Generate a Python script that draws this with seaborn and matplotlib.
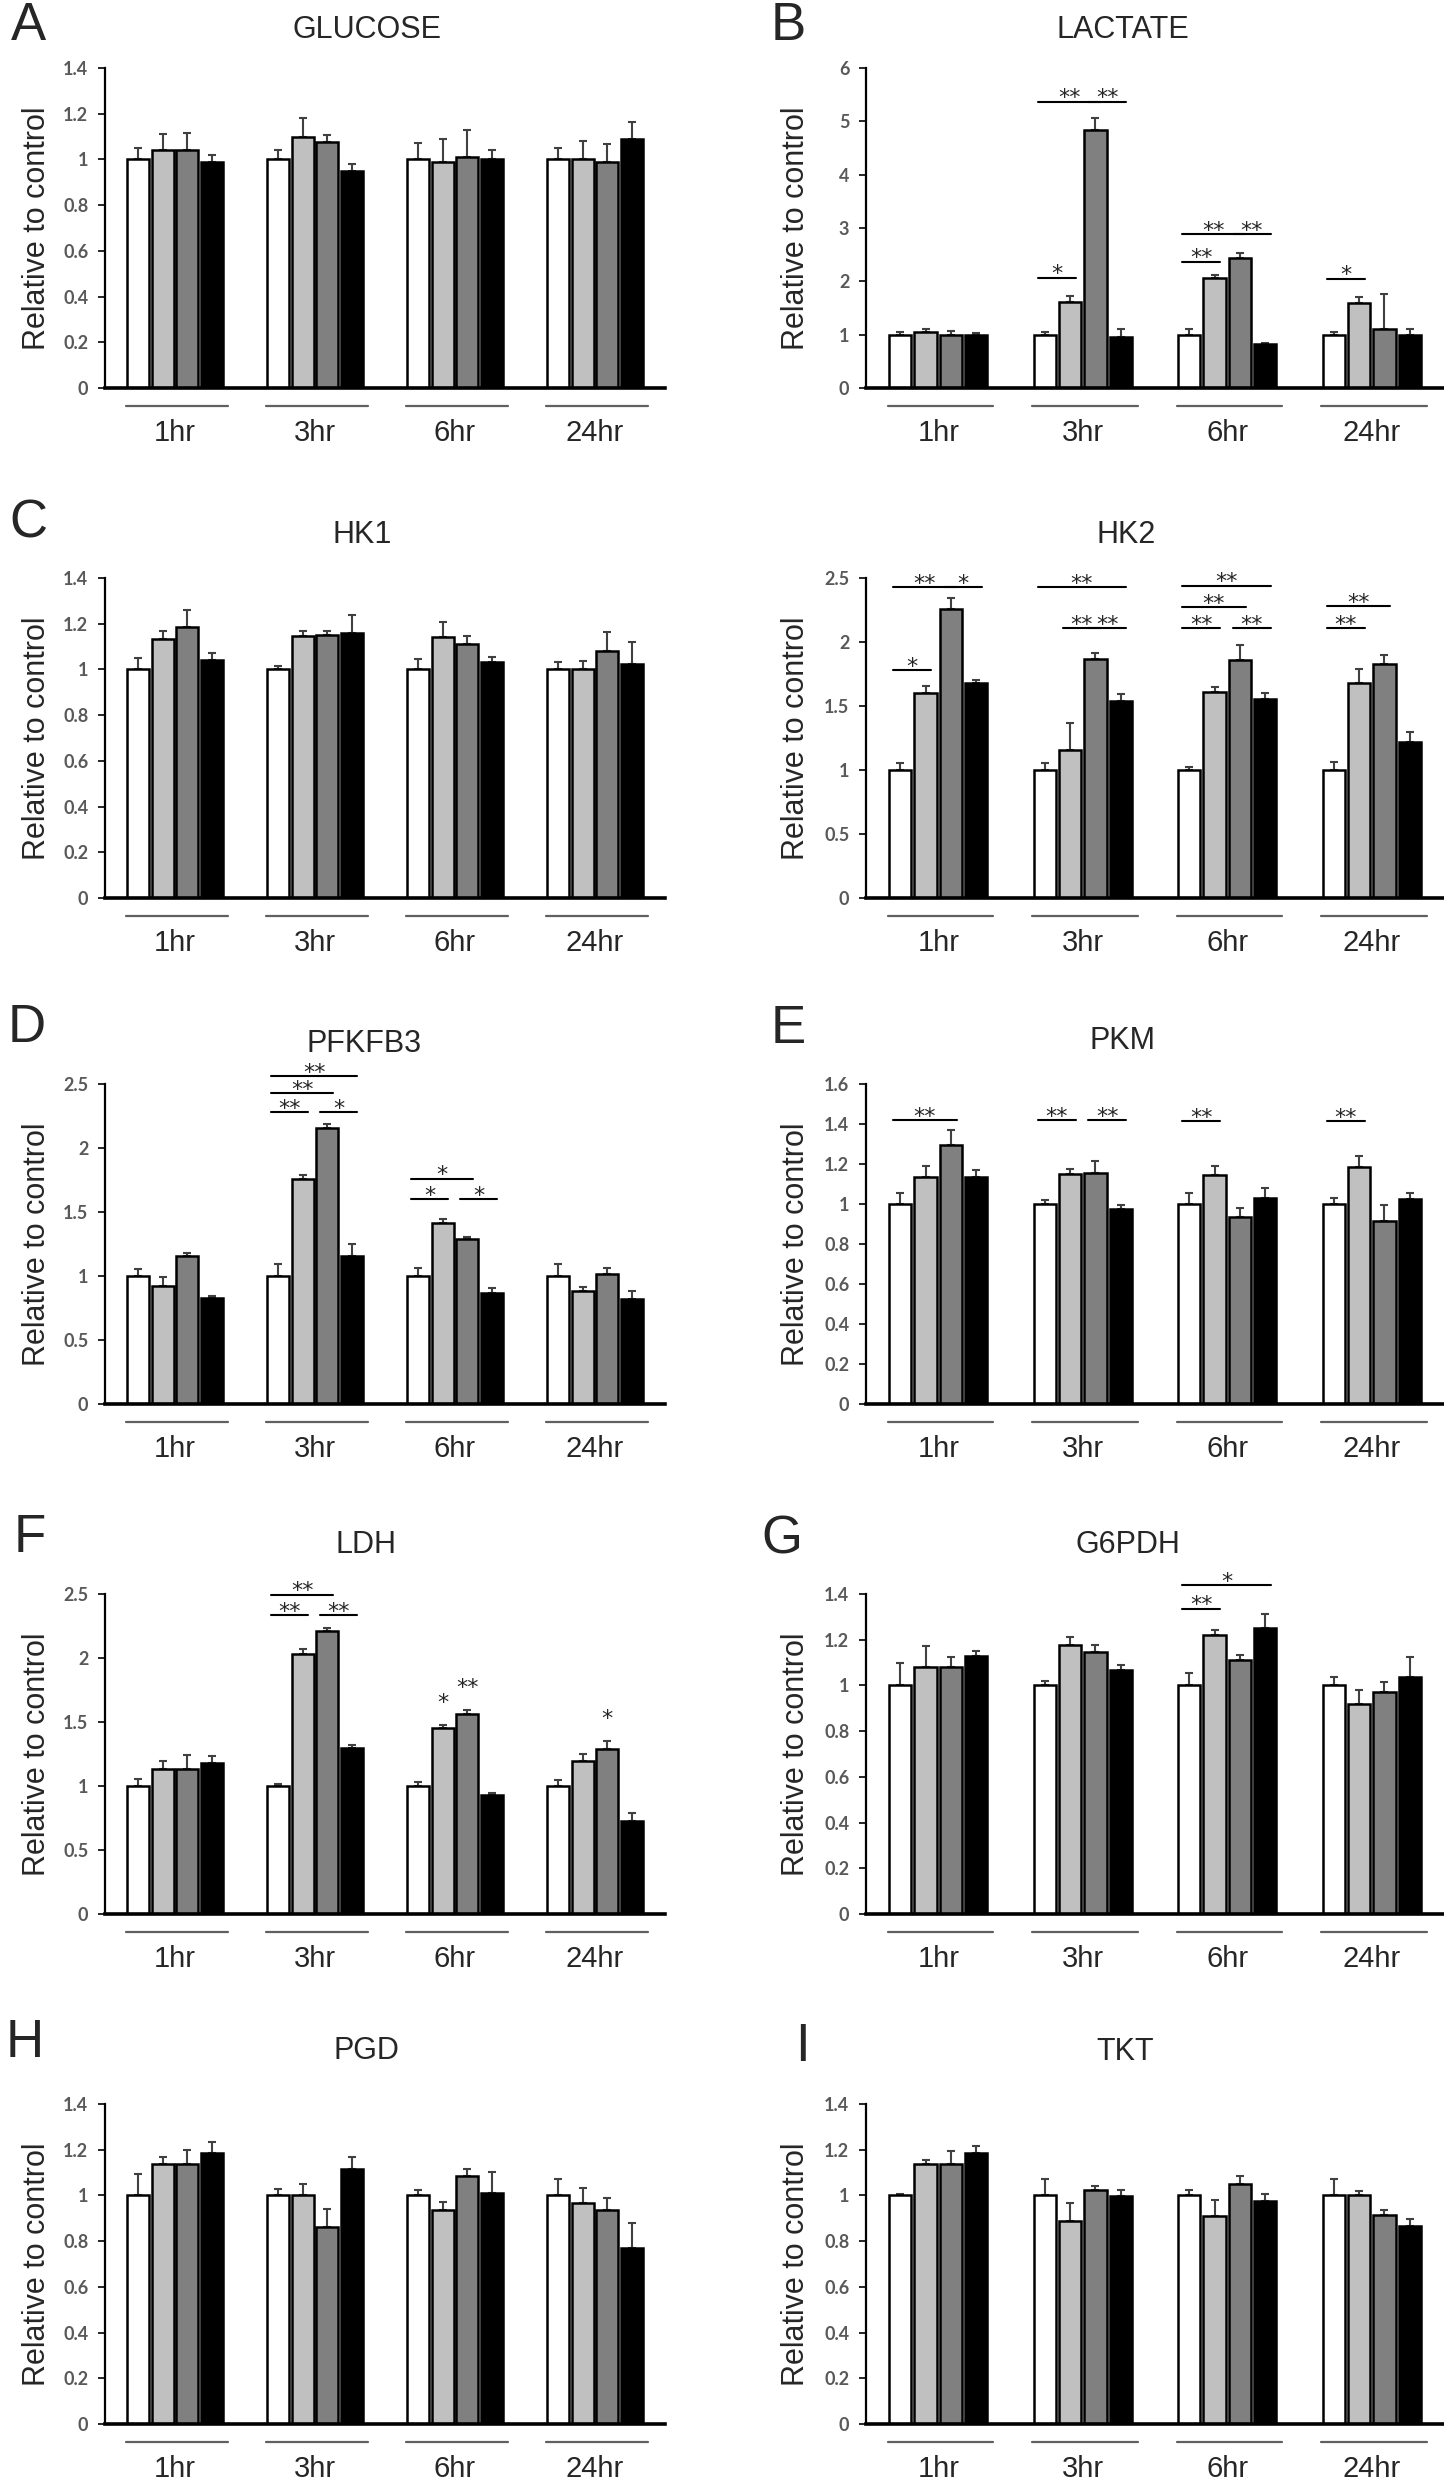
import numpy as np
import pandas as pd
import seaborn as sns
import matplotlib
matplotlib.use('Agg')
import matplotlib.pyplot as plt

# categorias y grupos
times = ['1hr', '3hr', '6hr', '24hr']
groups = ['control', 'treat1', 'treat2', 'treat3']
bar_colors = ['#ffffff', '#c0c0c0', '#808080', '#000000']

# medias (filas = tiempo, columnas = grupo) y error estandar
glucose_mean = [[1.00, 1.04, 1.04, 0.99], [1.00, 1.10, 1.075, 0.95], [1.00, 0.99, 1.01, 1.00], [1.00, 1.00, 0.99, 1.09]]
glucose_err = [[0.05, 0.07, 0.075, 0.03], [0.04, 0.08, 0.03, 0.028], [0.07, 0.10, 0.12, 0.04], [0.05, 0.08, 0.076, 0.073]]

lactate_mean = [[1.00, 1.05, 1.00, 1.00], [1.00, 1.62, 4.83, 0.96], [1.00, 2.07, 2.44, 0.82], [1.00, 1.60, 1.10, 1.00]]
lactate_err = [[0.05, 0.05, 0.06, 0.03], [0.05, 0.10, 0.24, 0.15], [0.10, 0.05, 0.10, 0.025], [0.05, 0.10, 0.67, 0.10]]

hk1_mean = [[1.00, 1.135, 1.186, 1.043], [1.00, 1.146, 1.152, 1.16], [1.00, 1.14, 1.11, 1.034], [1.00, 1.00, 1.082, 1.022]]
hk1_err = [[0.05, 0.035, 0.075, 0.03], [0.015, 0.024, 0.018, 0.077], [0.045, 0.067, 0.036, 0.02], [0.033, 0.038, 0.082, 0.098]]

hk2_mean = [[1.00, 1.60, 2.26, 1.68], [1.00, 1.154, 1.87, 1.54], [1.00, 1.61, 1.86, 1.555], [1.00, 1.68, 1.83, 1.22]]
hk2_err = [[0.055, 0.06, 0.083, 0.026], [0.055, 0.21, 0.042, 0.05], [0.026, 0.04, 0.12, 0.047], [0.065, 0.106, 0.065, 0.08]]

pfkfb3_mean = [[1.00, 0.924, 1.153, 0.829], [1.00, 1.758, 2.158, 1.16], [1.00, 1.416, 1.29, 0.866], [1.00, 0.884, 1.018, 0.818]]
pfkfb3_err = [[0.055, 0.066, 0.026, 0.013], [0.09, 0.034, 0.026, 0.09], [0.06, 0.03, 0.016, 0.04], [0.09, 0.03, 0.042, 0.063]]

pkm_mean = [[1.00, 1.137, 1.294, 1.137], [1.00, 1.149, 1.157, 0.975], [1.00, 1.144, 0.937, 1.032], [1.00, 1.187, 0.915, 1.025]]
pkm_err = [[0.054, 0.053, 0.077, 0.033], [0.02, 0.027, 0.057, 0.019], [0.057, 0.045, 0.045, 0.05], [0.03, 0.052, 0.08, 0.032]]

ldh_mean = [[1.00, 1.134, 1.134, 1.183], [1.00, 2.033, 2.208, 1.293], [1.00, 1.457, 1.564, 0.931], [1.00, 1.194, 1.288, 0.727]]
ldh_err = [[0.056, 0.058, 0.11, 0.05], [0.014, 0.037, 0.026, 0.027], [0.035, 0.018, 0.029, 0.015], [0.045, 0.057, 0.06, 0.06]]

g6pdh_mean = [[1.00, 1.079, 1.079, 1.13], [1.00, 1.178, 1.145, 1.069], [1.00, 1.222, 1.112, 1.25], [1.00, 0.92, 0.971, 1.036]]
g6pdh_err = [[0.10, 0.095, 0.045, 0.019], [0.019, 0.032, 0.033, 0.022], [0.053, 0.02, 0.022, 0.064], [0.035, 0.061, 0.044, 0.087]]

pgd_mean = [[1.00, 1.137, 1.137, 1.187], [1.00, 1.00, 0.862, 1.116], [1.00, 0.938, 1.087, 1.011], [1.00, 0.967, 0.938, 0.77]]
pgd_err = [[0.093, 0.029, 0.061, 0.048], [0.029, 0.051, 0.078, 0.05], [0.023, 0.034, 0.029, 0.092], [0.071, 0.066, 0.05, 0.11]]

tkt_mean = [[1.00, 1.137, 1.137, 1.187], [1.00, 0.887, 1.023, 0.998], [1.00, 0.909, 1.051, 0.976], [1.00, 1.00, 0.915, 0.865]]
tkt_err = [[0.008, 0.017, 0.057, 0.029], [0.074, 0.082, 0.017, 0.026], [0.023, 0.07, 0.033, 0.031], [0.074, 0.019, 0.02, 0.032]]

# significancia: (tiempo, grupo_i, grupo_j, altura, texto); i == j -> solo texto
lactate_sig = [(1, 0, 1, 2.07, '*'), (1, 0, 2, 5.37, '**'), (1, 2, 3, 5.37, '**'),
               (2, 0, 1, 2.37, '**'), (2, 0, 2, 2.88, '**'), (2, 2, 3, 2.88, '**'),
               (3, 0, 1, 2.05, '*')]
hk2_sig = [(0, 0, 1, 1.78, '*'), (0, 0, 2, 2.43, '**'), (0, 2, 3, 2.43, '*'),
           (1, 0, 3, 2.43, '**'), (1, 1, 2, 2.11, '**'), (1, 2, 3, 2.11, '**'),
           (2, 0, 3, 2.44, '**'), (2, 0, 2, 2.27, '**'), (2, 0, 1, 2.11, '**'), (2, 2, 3, 2.11, '**'),
           (3, 0, 2, 2.28, '**'), (3, 0, 1, 2.11, '**')]
pfkfb3_sig = [(1, 0, 3, 2.56, '**'), (1, 0, 2, 2.43, '**'), (1, 0, 1, 2.28, '**'), (1, 2, 3, 2.28, '*'),
              (2, 0, 2, 1.76, '*'), (2, 0, 1, 1.60, '*'), (2, 2, 3, 1.60, '*')]
pkm_sig = [(0, 0, 2, 1.42, '**'), (1, 0, 1, 1.42, '**'), (1, 2, 3, 1.42, '**'),
           (2, 0, 1, 1.415, '**'), (3, 0, 1, 1.415, '**')]
ldh_sig = [(1, 0, 2, 2.495, '**'), (1, 0, 1, 2.333, '**'), (1, 2, 3, 2.333, '**'),
           (2, 1, 1, 1.62, '*'), (2, 2, 2, 1.74, '**'), (3, 2, 2, 1.50, '*')]
g6pdh_sig = [(2, 0, 3, 1.438, '*'), (2, 0, 1, 1.336, '**')]

# paneles: letra, titulo, ymax, paso, medias, errores, significancia
panels = [
    ('A', 'GLUCOSE', 1.4, 0.2, glucose_mean, glucose_err, []),
    ('B', 'LACTATE', 6, 1, lactate_mean, lactate_err, lactate_sig),
    ('C', 'HK1', 1.4, 0.2, hk1_mean, hk1_err, []),
    ('', 'HK2', 2.5, 0.5, hk2_mean, hk2_err, hk2_sig),
    ('D', 'PFKFB3', 2.5, 0.5, pfkfb3_mean, pfkfb3_err, pfkfb3_sig),
    ('E', 'PKM', 1.6, 0.2, pkm_mean, pkm_err, pkm_sig),
    ('F', 'LDH', 2.5, 0.5, ldh_mean, ldh_err, ldh_sig),
    ('G', 'G6PDH', 1.4, 0.2, g6pdh_mean, g6pdh_err, g6pdh_sig),
    ('H', 'PGD', 1.4, 0.2, pgd_mean, pgd_err, []),
    ('I', 'TKT', 1.4, 0.2, tkt_mean, tkt_err, []),
]

sns.set_style('white')
plt.rcParams['font.family'] = ['Liberation Sans', 'DejaVu Sans']

W, H = 1444, 2480
fig = plt.figure(figsize=(W / 100, H / 100), dpi=100)

# posiciones en pixeles (referencia)
col_x = [(105, 665), (866, 1444)]
row_base = [388, 898, 1404, 1914, 2424]
ax_h = 320
title_xy = [(367, 30), (1123, 30), (362, 535), (1126, 535), (364, 1044), (1122, 1041),
            (366, 1545), (1128, 1545), (366, 2051), (1125, 2052)]
letter_xy = [(28, 26), (788, 26), (28, 524), (0, 0), (27, 1028), (788, 1029),
             (30, 1538), (782, 1540), (25, 2043), (802, 2047)]

for k, (letter, title, ymax, step, means, errs, sig) in enumerate(panels):
    r, c = divmod(k, 2)
    x0, x1 = col_x[c]
    base = row_base[r]
    ax = fig.add_axes([x0 / W, 1 - base / H, (x1 - x0) / W, ax_h / H])

    df = pd.DataFrame([(t, g, means[i][j]) for i, t in enumerate(times) for j, g in enumerate(groups)],
                      columns=['time', 'group', 'value'])
    sns.barplot(data=df, x='time', y='value', hue='group', order=times, hue_order=groups,
                palette=bar_colors, saturation=1, errorbar=None, width=0.7, gap=0.12,
                edgecolor='black', linewidth=1.8, legend=False, ax=ax)

    # barras de error (solo hacia arriba)
    bar_conts = list(ax.containers)
    centers = np.zeros((len(times), len(groups)))
    for j, cont in enumerate(bar_conts):
        xs = np.array([p.get_x() + p.get_width() / 2 for p in cont.patches])
        hs = np.array([p.get_height() for p in cont.patches])
        centers[:, j] = xs
        up = np.array([errs[i][j] for i in range(len(times))])
        ax.errorbar(xs, hs, yerr=[np.zeros_like(up), up], fmt='none', ecolor='#404040',
                    elinewidth=1.5, capsize=3, capthick=1.5, zorder=0.5)

    # significancia
    star_kw = dict(ha='center', va='baseline', fontsize=16, family='DejaVu Sans',
                   textcoords='offset points', xytext=(0, -2), annotation_clip=False)
    for (t, i, j, y, txt) in sig:
        if i != j:
            xa, xb = centers[t, i] - 0.05, centers[t, j] + 0.04
            ax.plot([xa, xb], [y, y], color='black', lw=1.5, clip_on=False)
            ax.annotate(txt, ((xa + xb) / 2, y), **star_kw)
        else:
            ax.annotate(txt, (centers[t, i], y), **star_kw)

    # lineas bajo cada grupo
    for t in range(len(times)):
        ax.plot([t - 0.35, t + 0.38], [-0.056, -0.056], color='#606060', lw=1.6,
                transform=ax.get_xaxis_transform(), clip_on=False)

    ax.set_xlim(-0.5, 3.5)
    ax.set_ylim(0, ymax)
    yt = np.arange(0, ymax + step / 2, step)
    ax.set_yticks(yt)
    ax.set_yticklabels([f'{v:g}' for v in yt], fontfamily='Lato', fontweight='bold',
                       fontsize=13, color='#595959')
    ax.tick_params(axis='y', length=5, width=1.4, direction='out', pad=7, left=True)
    ax.tick_params(axis='x', length=0, pad=22, labelsize=21)
    ax.set_xlabel('')
    ax.set_ylabel('Relative to control', fontsize=22)
    ax.yaxis.set_label_coords(-0.095, 0.5)

    for s in ['top', 'right']:
        ax.spines[s].set_visible(False)
    ax.spines['left'].set_linewidth(1.6)
    ax.spines['left'].set_color('black')
    ax.spines['bottom'].set_linewidth(2.6)
    ax.spines['bottom'].set_color('black')

    tx, ty = title_xy[k]
    fig.text(tx / W, 1 - ty / H, title, ha='center', va='center', fontsize=22)
    if letter:
        lx, ly = letter_xy[k]
        fig.text(lx / W, 1 - ly / H, letter, ha='center', va='center', fontsize=38)

fig.savefig('out.png', dpi=100, facecolor='white')
